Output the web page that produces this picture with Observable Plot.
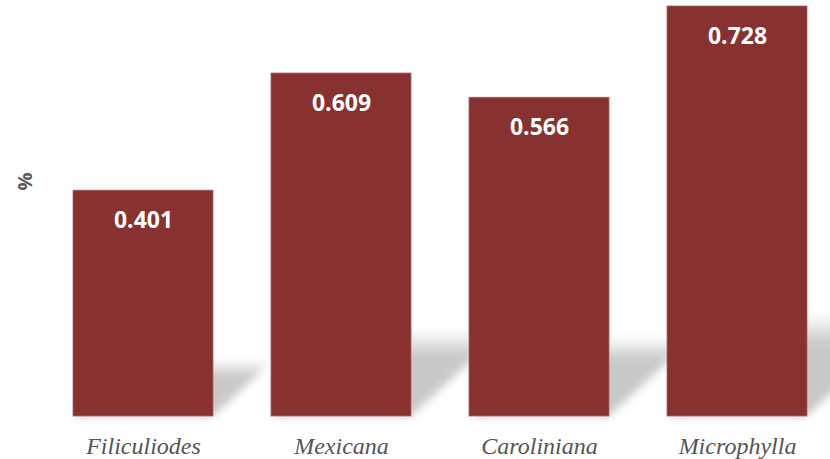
<!DOCTYPE html>
<html>
<head>
<meta charset="utf-8">
<script src="https://cdn.jsdelivr.net/npm/d3@7"></script>
<script src="https://cdn.jsdelivr.net/npm/@observablehq/plot@0.6"></script>
<style>
  html, body { margin: 0; padding: 0; background: #ffffff; }
  #chart svg { display: block; }
</style>
</head>
<body>
<div id="chart"></div>
<script>
const categories = ["Filiculiodes", "Mexicana", "Caroliniana", "Microphylla"];
const values = [0.401, 0.609, 0.566, 0.728];
const yLabel = "%";

const data = categories.map((c, i) => ({ species: c, value: values[i] }));

const barColor = "#873130";

function shadowRender(index, scales, vals, dims, context, next) {
  const g = next(index, scales, vals, dims, context);
  const svgNS = "http://www.w3.org/2000/svg";
  const defs = document.createElementNS(svgNS, "defs");
  defs.innerHTML = `
    <linearGradient id="shGrad" x1="0" y1="0" x2="0" y2="1">
      <stop offset="0" stop-color="#c8c8c8" stop-opacity="0"/>
      <stop offset="0.3" stop-color="#c8c8c8" stop-opacity="1"/>
      <stop offset="1" stop-color="#c8c8c8" stop-opacity="1"/>
    </linearGradient>
    <filter id="shBlur" x="-30%" y="-30%" width="160%" height="160%">
      <feGaussianBlur stdDeviation="4"/>
    </filter>`;
  g.insertBefore(defs, g.firstChild);
  g.setAttribute("filter", "url(#shBlur)");
  g.querySelectorAll("rect").forEach(r => {
    const y = +r.getAttribute("y"), h = +r.getAttribute("height");
    const yb = y + h;
    r.setAttribute("transform", `translate(0,${yb}) matrix(1,0,-0.27,0.25,0,0) translate(0,${-yb})`);
  });
  return g;
}

const chart = Plot.plot({
  width: 830,
  height: 459,
  marginTop: 6,
  marginBottom: 43,
  marginLeft: 52,
  marginRight: 3,
  style: { background: "#ffffff" },
  x: { domain: categories, paddingInner: 0.294, paddingOuter: 0.1, label: null },
  y: { domain: [0, 0.728], label: null, axis: null },
  marks: [
    Plot.barY(data, { x: "species", y: "value", fill: "url(#shGrad)", render: shadowRender }),
    Plot.barY(data, { x: "species", y: "value", fill: barColor, stroke: "#a86766", strokeWidth: 0.8, inset: 0 }),
    Plot.text(data, {
      x: "species", y: "value", text: d => d.value.toFixed(3),
      dy: 30, fill: "#ffffff", fontSize: 23, fontWeight: "bold",
      fontFamily: "'Open Sans', sans-serif"
    }),
    Plot.axisX({
      tickSize: 0, tickPadding: 20, label: null,
      fontSize: 24, fontStyle: "italic", fill: "#555555",
      fontFamily: "'Liberation Serif', 'DejaVu Serif', serif"
    }),
    Plot.text([yLabel], {
      frameAnchor: "left", dx: -27, dy: -21, rotate: -90,
      fontSize: 20, fontWeight: "bold", fill: "#595959",
      fontFamily: "'Open Sans', sans-serif"
    })
  ]
});

document.getElementById("chart").appendChild(chart);
</script>
</body>
</html>
